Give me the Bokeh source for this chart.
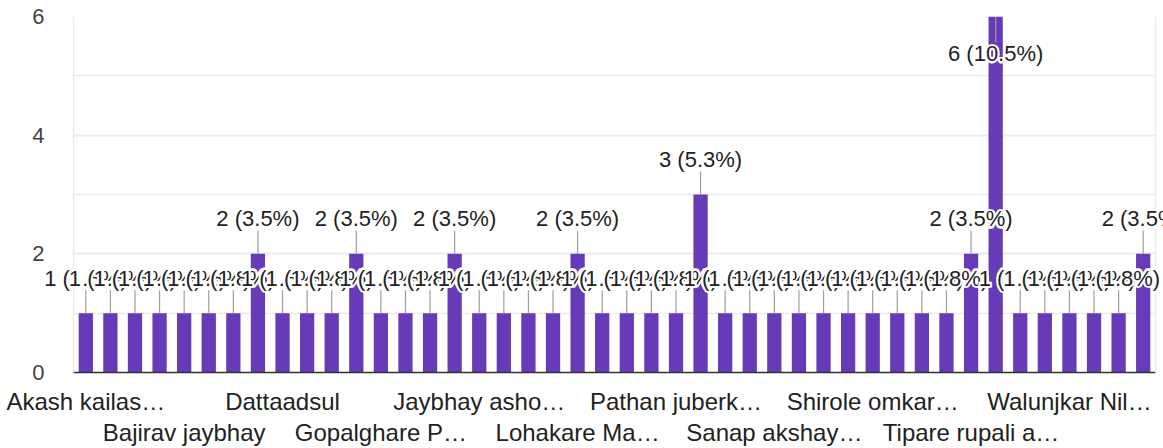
import numpy as np
from bokeh.plotting import figure
from bokeh.models import (ColumnDataSource, Range1d, FixedTicker, SingleIntervalTicker,
                          LinearAxis, LabelSet, Span)
from bokeh.embed import file_html
from bokeh.resources import INLINE
from bokeh.core.properties import value

# ---- data ----
counts = [1, 1, 1, 1, 1, 1, 1, 2, 1, 1, 1, 2, 1, 1, 1, 2, 1, 1, 1, 1, 2, 1,
          1, 1, 1, 3, 1, 1, 1, 1, 1, 1, 1, 1, 1, 1, 2, 6, 1, 1, 1, 1, 1, 2]
total_responses = 57
shown_label_index = [0, 4, 8, 12, 16, 20, 24, 28, 32, 36, 40]
shown_labels = ["Akash kailas…", "Bajirav jaybhay", "Dattaadsul", "Gopalghare P…",
                "Jaybhay asho…", "Lohakare Ma…", "Pathan juberk…", "Sanap akshay…",
                "Shirole omkar…", "Tipare rupali a…", "Walunjkar Nil…"]
y_max = 6

FONT = "Liberation Sans"
FS_X = "24px"
FS_Y = "22px"
FS_L = "22px"
BAR = "#673ab7"
TXT = "#222222"
GRID = "#ebebeb"

# layout (pixels)
W, H = 1163, 448
FRAME_L, FRAME_T = 36, 16          # drawing frame
PLOT_L, PLOT_R = 73, 1155          # visible chart area (bars' band)
BOTTOM = 75

n = len(counts)
xs = np.arange(n)
vals = np.array(counts, dtype=float)
labels = [f"{c} ({c / total_responses * 100:.1f}%)" for c in counts]
inside = vals >= y_max
# label offsets in screen pixels (positive = upwards for LabelSet)
text_off = np.where(inside, -37, 35)
stem_angle = np.where(inside, -np.pi / 2, np.pi / 2)
stem_len = np.where(inside, 26, 23)

ppu = (PLOT_R - PLOT_L) / n
x0 = -0.5 - (PLOT_L - FRAME_L) / ppu
x1 = n - 0.5 + (W - PLOT_R) / ppu

src = ColumnDataSource(dict(x=xs, top=vals, ang=stem_angle, slen=stem_len))

p = figure(width=W, height=H, output_backend="svg", toolbar_location=None,
           x_range=Range1d(x0, x1), y_range=Range1d(0, y_max),
           min_border_left=FRAME_L, min_border_right=0, min_border_top=FRAME_T,
           min_border_bottom=BOTTOM, x_axis_location=None)
p.background_fill_color = "white"
p.border_fill_color = "white"
p.outline_line_color = None

# y axis (labels pulled in next to the chart area)
p.yaxis.ticker = SingleIntervalTicker(interval=2, num_minor_ticks=2)
p.yaxis.axis_line_color = None
p.yaxis.major_tick_line_color = None
p.yaxis.minor_tick_line_color = None
p.yaxis.major_tick_out = 0
p.yaxis.major_label_text_font = FONT
p.yaxis.major_label_text_font_size = FS_Y
p.yaxis.major_label_text_color = "#444444"
p.yaxis.major_label_standoff = -12
p.ygrid.grid_line_color = GRID
p.ygrid.minor_grid_line_color = GRID
p.ygrid.grid_line_width = 1.5
p.ygrid.minor_grid_line_width = 1.5
p.ygrid.cross_bounds = (-0.5, n - 0.5)
p.xgrid.grid_line_color = None

# chart area side borders
for loc in (-0.5, n - 0.5):
    p.add_layout(Span(location=loc, dimension="height", line_color=GRID,
                      line_width=1.5))

# x axes (two staggered rows)
row1 = [i for k, i in enumerate(shown_label_index) if k % 2 == 0]
row2 = [i for k, i in enumerate(shown_label_index) if k % 2 == 1]
lab_map = {i: l for i, l in zip(shown_label_index, shown_labels)}

ax1 = LinearAxis(ticker=FixedTicker(ticks=row1),
                 major_label_overrides={i: lab_map[i] for i in row1})
ax2 = LinearAxis(ticker=FixedTicker(ticks=row2),
                 major_label_overrides={i: lab_map[i] for i in row2})
for ax, so in ((ax1, 15), (ax2, 1)):
    ax.major_tick_line_color = None
    ax.minor_tick_line_color = None
    ax.major_tick_out = 0
    ax.major_label_standoff = so
    ax.major_label_text_font = FONT
    ax.major_label_text_font_size = FS_X
    ax.major_label_text_color = TXT
ax1.axis_line_color = "#333333"
ax1.axis_line_width = 1.5
ax1.bounds = (-0.5, n - 0.5)
ax2.axis_line_color = None
p.add_layout(ax1, "below")
p.add_layout(ax2, "below")

# bars
p.vbar(x="x", top="top", bottom=0, width=0.58, source=src,
       fill_color=BAR, line_color=None)

# stems
p.ray(x="x", y="top", length="slen", length_units="screen", angle="ang",
      source=src, line_color="#9e9e9e", line_width=1.2)

# value labels: each label gets a white halo, drawn in order so later ones overlap
halo_dx = [-1.5, 1.5, 0, 0, -1.2, 1.2, -1.2, 1.2, 0]
halo_dy = [0, 0, -1.5, 1.5, -1.2, -1.2, 1.2, 1.2, 0]
for i in range(n):
    hs = ColumnDataSource(dict(x=[xs[i]] * len(halo_dx), y=[vals[i]] * len(halo_dx),
                               t=[labels[i]] * len(halo_dx), dx=halo_dx,
                               dy=[text_off[i] + d for d in halo_dy]))
    p.add_layout(LabelSet(x="x", y="y", text="t", x_offset="dx", y_offset="dy",
                          source=hs, text_align="center", text_baseline="middle",
                          text_font=value(FONT), text_font_size=value(FS_L),
                          text_color="white", text_outline_color="white"))
    fs = ColumnDataSource(dict(x=[xs[i]], y=[vals[i]], t=[labels[i]],
                               dy=[text_off[i]]))
    p.add_layout(LabelSet(x="x", y="y", text="t", y_offset="dy", source=fs,
                          text_align="center", text_baseline="middle",
                          text_font=value(FONT), text_font_size=value(FS_L),
                          text_color=TXT))

open("out.html", "w").write(file_html(p, INLINE))
